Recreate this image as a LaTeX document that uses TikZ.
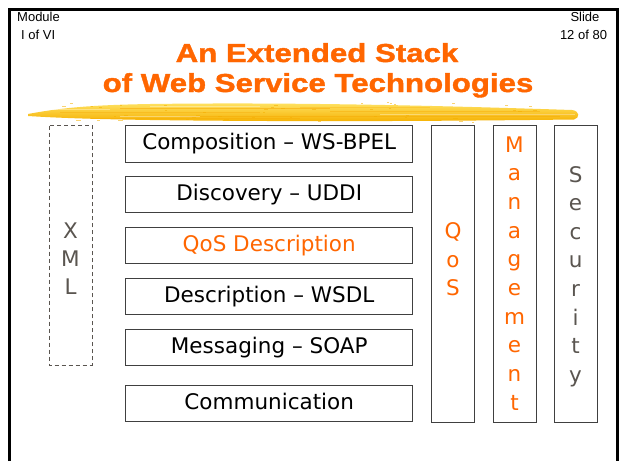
\documentclass[tikz,border=0pt]{standalone}
\usepackage{fontspec}
\setmainfont{DejaVu Sans}
\newfontfamily\titlefont[FakeStretch=1.2,FakeBold=1.5]{Liberation Sans Bold}
\newfontfamily\headfont{Liberation Sans}
\definecolor{accent}{HTML}{FF6600}
\definecolor{lettergray}{HTML}{5A5550}
\definecolor{brushlight}{HTML}{FFE466}
\definecolor{brushdark}{HTML}{F5B000}

\tikzset{
  layerbox/.style={draw=black!75, line width=1pt, minimum width=287pt,
    minimum height=36.4pt, inner sep=0pt, text height=15.5pt, text depth=4.5pt,
    font=\fontsize{21.5}{24}\selectfont},
  columnbox/.style={draw=black!75, line width=1pt, inner sep=0pt},
  letter/.style={anchor=base, inner sep=0pt, font=\fontsize{21.5}{24}\selectfont},
  headtext/.style={anchor=base west, inner sep=0pt, font=\headfont\fontsize{13}{14}\selectfont},
  titletext/.style={anchor=base, inner sep=0pt, text=accent, font=\titlefont\fontsize{26}{30}\selectfont},
}

\begin{document}
\begin{tikzpicture}[x=1pt,y=-1pt]
\useasboundingbox (0,0) rectangle (621,461);
\fill[white] (0,0) rectangle (621,461);

% slide frame (open at the bottom)
\draw[line width=3pt, black] (9,461) -- (9,9) -- (617,9) -- (617,461);

% header
\node[headtext] (mod)  at (17,21.7) {Module};
\node[headtext] (modn) at (21,39)   {I of VI};
\node[headtext, anchor=base] (sl)  at (585,21.7) {Slide};
\node[headtext, anchor=base] (sln) at (583.5,39)   {12 of 80};

% title
\node[titletext] (t1) at (317,62) {An Extended Stack};
\node[titletext] (t2) at (318,92) {of Web Service Technologies};

% brush stroke under the title
\shade[top color=brushlight, bottom color=brushdark]
  (28,114) .. controls (60,108) and (90,105) .. (150,104)
  .. controls (300,102) and (450,106) .. (572,110)
  .. controls (580,111) and (580,118) .. (574,119.5)
  .. controls (450,121) and (300,122) .. (150,120)
  .. controls (90,119) and (60,118) .. (28,116) -- cycle;
% bristle streaks
\foreach \ya/\yb/\xa/\xb/\op in {108/109/120/330/0.5, 112/112.5/60/260/0.35,
    116/117/180/560/0.45, 110.5/111/330/540/0.4, 118/118.5/90/300/0.3,
    114/114.6/420/570/0.35, 106.5/107.2/300/430/0.3}
  \fill[brushdark!80!orange, opacity=\op] (\xa,\ya) rectangle (\xb,\yb);
\foreach \ya/\xa/\xb in {106/150/260, 113.5/380/575, 109/40/110, 115.5/120/200}
  \fill[white, opacity=0.35] (\xa,\ya) rectangle (\xb,\ya+0.8);
% loose flecks along the edges
\pgfmathsetseed{7}
\foreach \k in {1,...,45} {
  \pgfmathsetmacro{\fx}{60+rnd*510}
  \pgfmathsetmacro{\fy}{102+rnd*20}
  \fill[brushdark, opacity=0.55] (\fx,\fy) rectangle (\fx+1.5+rnd*3,\fy+1);
}

% stack layers
\node[layerbox] (comp) at (269.2,143.9) {Composition -- WS-BPEL};
\node[layerbox] (disc) at (269.2,194.5) {Discovery -- UDDI};
\node[layerbox, text=accent] (qosd) at (269.2,245.5) {QoS Description};
\node[layerbox] (desc) at (269.2,296.5) {Description -- WSDL};
\node[layerbox] (msg)  at (269.2,347.5) {Messaging -- SOAP};
\node[layerbox] (comm) at (269.2,403.5) {Communication};

% XML column (dashed)
\draw[draw=lettergray, line width=1pt, dash pattern=on 4pt off 3pt]
  (49,125.7) rectangle (92,365);
\foreach \c [count=\i from 0] in {X,M,L}
  \node[letter, text=lettergray] (xml\i) at (70.5,238+28*\i) {\c};

% vertical columns
\draw[columnbox] (431.7,125.7) rectangle (474.3,422);
\draw[columnbox] (493,125.7) rectangle (536,422);
\draw[columnbox] (554,125.7) rectangle (597.2,422);

\foreach \c [count=\i from 0] in {Q,o,S}
  \node[letter, text=accent] (qos\i) at (453,238.5+28.6*\i) {\c};
\foreach \c [count=\i from 0] in {M,a,n,a,g,e,m,e,n,t}
  \node[letter, text=accent] (mgt\i) at (514.5,152+28.7*\i) {\c};
\foreach \c [count=\i from 0] in {S,e,c,u,r,i,t,y}
  \node[letter, text=lettergray] (sec\i) at (575.6,182+28.6*\i) {\c};
\end{tikzpicture}
\end{document}
